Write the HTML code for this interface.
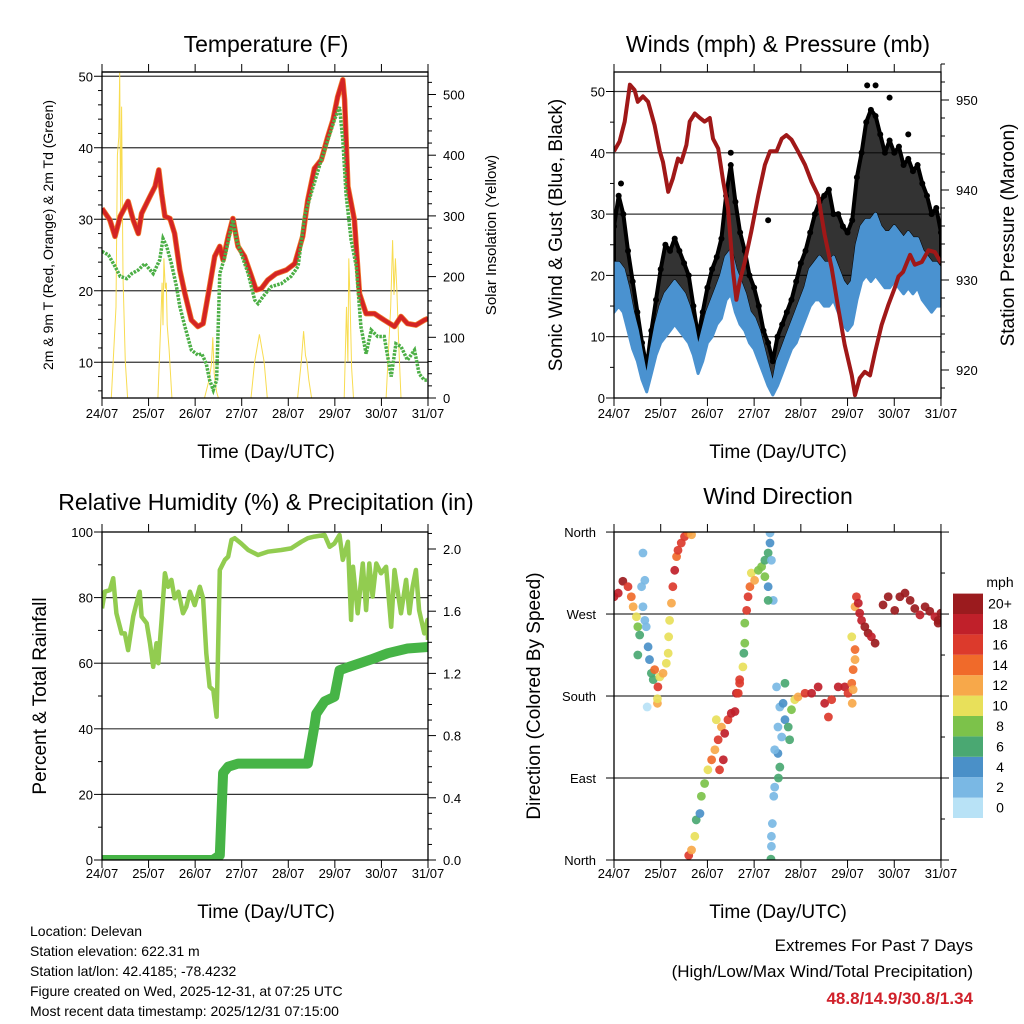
<!DOCTYPE html>
<html><head><meta charset="utf-8"><style>
body{margin:0;background:#fff}
svg{display:block;font-family:"Liberation Sans",sans-serif}
</style></head><body>
<svg id="c" width="1024" height="1024" viewBox="0 0 1024 1024" xmlns="http://www.w3.org/2000/svg">
<defs>
<clipPath id="cp1"><rect x="102" y="72" width="326" height="326"/></clipPath>
<clipPath id="cp2"><rect x="614" y="72" width="327" height="326"/></clipPath>
<clipPath id="cp3"><rect x="102" y="532" width="326" height="328"/></clipPath>
<clipPath id="cp4"><rect x="614" y="532" width="327" height="328"/></clipPath>
</defs>
<text x="266" y="52" font-size="23" text-anchor="middle">Temperature (F)</text>
<text x="778" y="52" font-size="23" text-anchor="middle">Winds (mph) &amp; Pressure (mb)</text>
<text x="266" y="510" font-size="23" text-anchor="middle">Relative Humidity (%) &amp; Precipitation (in)</text>
<text x="778" y="504" font-size="23" text-anchor="middle">Wind Direction</text>
<text x="266" y="458" font-size="19" text-anchor="middle">Time (Day/UTC)</text>
<text x="778" y="458" font-size="19" text-anchor="middle">Time (Day/UTC)</text>
<text x="266" y="918" font-size="19" text-anchor="middle">Time (Day/UTC)</text>
<text x="778" y="918" font-size="19" text-anchor="middle">Time (Day/UTC)</text>
<text transform="translate(53,235) rotate(-90)" font-size="14" text-anchor="middle">2m &amp; 9m T (Red, Orange) &amp; 2m Td (Green)</text>
<text transform="translate(496,235) rotate(-90)" font-size="15" text-anchor="middle">Solar Insolation (Yellow)</text>
<text transform="translate(562,235) rotate(-90)" font-size="19" text-anchor="middle">Sonic Wind &amp; Gust (Blue, Black)</text>
<text transform="translate(1014,235) rotate(-90)" font-size="19" text-anchor="middle">Station Pressure (Maroon)</text>
<text transform="translate(46,696) rotate(-90)" font-size="19" text-anchor="middle">Percent &amp; Total Rainfall</text>
<text transform="translate(540,696) rotate(-90)" font-size="19" text-anchor="middle">Direction (Colored By Speed)</text>
<g font-size="14">
<text x="30" y="936">Location: Delevan</text>
<text x="30" y="956">Station elevation: 622.31 m</text>
<text x="30" y="976">Station lat/lon: 42.4185; -78.4232</text>
<text x="30" y="996">Figure created on Wed, 2025-12-31, at 07:25 UTC</text>
<text x="30" y="1016">Most recent data timestamp: 2025/12/31 07:15:00</text>
</g>
<text x="973" y="951" font-size="17" text-anchor="end">Extremes For Past 7 Days</text>
<text x="973" y="977" font-size="17" text-anchor="end">(High/Low/Max Wind/Total Precipitation)</text>
<text x="973" y="1004" font-size="17" font-weight="bold" fill="#d0202a" text-anchor="end">48.8/14.9/30.8/1.34</text>
<text x="1000" y="587" font-size="14" text-anchor="middle">mph</text>
</svg>
<script>
// ---- data ----
const dayLabels=["24/07","25/07","26/07","27/07","28/07","29/07","30/07","31/07"];
const tTime=[0,0.17,0.28,0.39,0.56,0.67,0.78,0.85,1.03,1.14,1.22,1.28,1.35,1.46,1.56,1.67,1.78,1.92,2.06,2.17,2.31,2.42,2.53,2.60,2.71,2.81,2.92,3.06,3.21,3.31,3.42,3.56,3.74,3.96,4.14,4.31,4.42,4.56,4.71,4.85,4.96,5.06,5.17,5.21,5.28,5.42,5.53,5.67,5.85,6.06,6.28,6.42,6.56,6.74,6.92,7.0];
const tempT=[31.5,29.9,27.6,30.4,32.5,29.9,28.0,30.8,33.2,34.6,36.9,33.6,30.4,30.1,28.0,22.9,19.6,15.9,15.0,15.4,20.6,24.8,26.2,24.3,27.6,30.1,26.2,24.8,22.0,20.1,20.3,21.5,22.4,22.9,23.8,27.6,32.7,37.1,38.3,41.6,43.9,47.1,49.5,46.7,34.6,29.9,19.6,16.8,16.8,15.9,15.0,16.4,15.4,15.2,15.9,16.1];
const tdTime=[0,0.14,0.28,0.39,0.53,0.64,0.78,0.92,1.10,1.24,1.31,1.39,1.49,1.60,1.67,1.78,1.92,2.06,2.14,2.24,2.31,2.39,2.46,2.53,2.64,2.81,2.89,2.99,3.14,3.28,3.35,3.46,3.64,3.85,4.06,4.21,4.35,4.49,4.71,4.85,4.99,5.10,5.17,5.24,5.35,5.46,5.56,5.67,5.78,5.92,6.06,6.21,6.31,6.42,6.56,6.71,6.81,6.92,7.0];
const tempTd=[25.5,25.0,23.4,22.0,21.7,22.4,22.9,23.8,22.4,24.3,27.3,26.2,23.8,20.6,17.8,15.0,11.7,11.0,11.2,9.8,7.5,6.1,7.5,22.4,24.8,29.9,27.1,25.2,22.4,18.7,18.2,19.2,20.6,21.0,22.0,23.4,30.4,33.6,38.3,41.1,43.9,45.7,41.1,33.6,27.1,23.4,15.0,11.2,14.5,13.6,13.6,8.0,12.6,12.2,10.3,11.7,8.4,7.5,7.5];
const solTime=[0,0.2,0.3,0.33,0.36,0.38,0.4,0.42,0.45,0.5,0.55,1.2,1.26,1.29,1.31,1.33,1.36,1.38,1.4,1.44,1.5,2.2,2.3,2.35,2.38,2.41,2.46,2.5,3.2,3.28,3.38,3.48,3.55,4.2,4.28,4.33,4.37,4.4,4.44,4.5,5.2,5.25,5.28,5.3,5.33,5.36,5.4,6.1,6.2,6.24,6.27,6.3,6.33,6.37,6.42,7.0];
const solar=[0,0,150,400,430,538,300,480,200,60,0,0,120,190,120,230,180,190,120,80,0,0,30,55,100,40,10,0,0,60,105,60,0,0,60,110,70,60,30,0,0,150,60,230,150,50,0,0,150,260,170,230,180,90,0,0];
const wTime=[0,0.1,0.2,0.3,0.4,0.5,0.6,0.7,0.8,0.9,1.0,1.1,1.2,1.3,1.4,1.5,1.6,1.7,1.8,1.9,2.0,2.1,2.2,2.3,2.4,2.5,2.6,2.7,2.8,2.9,3.0,3.1,3.2,3.3,3.4,3.5,3.6,3.7,3.8,3.9,4.0,4.1,4.2,4.3,4.4,4.5,4.6,4.7,4.8,4.9,5.0,5.1,5.2,5.3,5.4,5.5,5.6,5.7,5.8,5.9,6.0,6.1,6.2,6.3,6.4,6.5,6.6,6.7,6.8,6.9,7.0];
const windLo=[14,15,14,11,8,6,3,1,4,7,9,10,11,12,11,10,9,7,4,6,9,10,12,13,16,17,14,12,11,9,8,6,4,2,0.5,2,4,6,8,9,11,13,15,16,16,15,15,16,14,12,11,12,16,19,20,19,20,19,18,18,19,18,17,18,17,18,16,15,14,15,15];
const windHi=[22,22,21,18,14,11,7,3,8,12,15,17,18,19,18,17,15,12,8,11,14,16,18,20,23,24,21,19,17,14,13,11,8,5,2,6,8,10,12,14,16,18,21,22,23,22,22,23,21,19,18,19,25,28,29,29,30,28,27,27,28,27,26,27,26,26,24,23,22,22,21];
const gust=[28,33,30,24,19,14,9,5,11,16,21,25,24,26,24,22,20,15,10,14,18,21,23,26,33,38,32,27,24,20,18,15,11,9,6,10,12,14,16,19,22,24,27,30,32,33,34,30,30,28,27,29,36,40,45,47,46,43,40,42,40,41,38,39,37,38,35,33,30,31,27];
const gustOutTime=[5.42,5.6,5.9,6.3,2.5,0.15,3.3];
const gustOut=[51,51,49,43,40,35,29];
const pTime=[0,0.12,0.23,0.34,0.44,0.51,0.62,0.73,0.87,0.98,1.05,1.16,1.26,1.37,1.44,1.55,1.62,1.73,1.84,1.94,2.05,2.12,2.23,2.34,2.44,2.55,2.62,2.69,2.8,2.94,3.09,3.23,3.34,3.48,3.59,3.69,3.8,3.94,4.09,4.23,4.37,4.51,4.66,4.8,4.94,5.09,5.16,5.26,5.37,5.48,5.59,5.73,5.87,6.01,6.09,6.19,6.34,6.44,6.59,6.73,6.87,7.0];
const pressure=[944.3,945.4,947.6,951.7,951.1,949.8,950.4,949.8,947.2,944.3,943.1,939.8,941.3,943.5,943.1,945.0,947.6,948.5,948.0,947.6,948.0,945.7,944.6,940.9,938.0,930.9,927.8,929.8,932.0,935.4,939.4,942.8,944.3,944.3,945.7,946.1,945.6,944.3,942.8,940.9,939.4,935.0,931.3,926.9,922.8,919.4,917.2,919.1,919.8,919.4,922.0,925.0,927.2,929.1,930.4,930.9,932.8,931.7,932.0,933.3,933.1,931.9];
const rhTime=[0,0.06,0.17,0.24,0.31,0.42,0.49,0.56,0.67,0.74,0.81,0.85,0.96,1.03,1.1,1.17,1.21,1.28,1.35,1.42,1.49,1.56,1.64,1.74,1.81,1.89,1.99,2.1,2.17,2.24,2.31,2.39,2.46,2.49,2.53,2.64,2.71,2.78,2.85,2.99,3.14,3.35,3.56,3.85,4.06,4.28,4.42,4.56,4.78,4.89,4.99,5.1,5.17,5.28,5.35,5.39,5.49,5.6,5.67,5.74,5.81,5.89,5.99,6.1,6.21,6.28,6.42,6.53,6.6,6.67,6.74,6.81,6.92,6.99,7.0];
const rh=[76.7,81.8,82.3,85.9,75.2,69.1,69.1,64.0,74.2,78.3,81.8,74.2,72.2,66.1,58.9,66.1,60.0,73.2,87.4,83.3,85.4,79.8,81.8,75.2,77.2,81.8,77.7,83.3,79.8,63.0,52.8,51.8,43.7,63.0,88.4,91.5,92.5,97.6,98.1,96.5,94.5,93.0,94.0,94.5,95.0,97.0,98.1,98.6,99.1,95.5,96.5,99.1,91.5,97.0,73.2,89.4,75.2,90.4,76.2,90.4,80.3,90.4,87.4,89.4,71.1,88.4,75.2,85.4,75.2,83.3,88.4,76.2,69.1,73.2,67.1];
const prTime=[0,2.38,2.53,2.6,2.71,2.92,4.42,4.56,4.6,4.78,4.99,5.1,5.28,5.78,6.14,6.56,7.0];
const precip=[0,0,0.03,0.56,0.6,0.62,0.62,0.86,0.94,1.02,1.05,1.22,1.24,1.29,1.33,1.36,1.37];
const dirTime=[0,0.09,0.19,0.3,0.37,0.41,0.48,0.51,0.55,0.62,0.66,0.69,0.66,0.73,0.76,0.8,0.84,0.87,0.94,0.98,1.05,1.12,1.16,1.17,1.19,1.23,1.26,1.3,1.34,1.37,1.44,1.51,1.59,1.66,0.62,0.51,0.71,0.93,0.93,0.59,
1.6,1.66,1.73,1.76,1.84,1.87,1.94,2.01,2.09,2.16,2.23,2.3,2.37,2.44,2.51,2.59,2.26,2.34,2.19,2.62,2.69,
2.66,2.69,2.76,2.78,2.8,2.8,2.84,2.87,2.91,2.94,3.01,3.09,3.16,3.23,3.3,3.34,3.34,3.37,3.3,3.41,3.3,3.23,
3.36,3.37,3.37,3.39,3.42,3.44,3.52,3.55,3.51,3.44,3.59,3.51,3.66,3.73,3.76,3.55,3.62,3.48,3.66,3.8,3.87,3.94,4.09,4.23,4.37,4.51,4.59,4.66,4.8,4.94,5.01,5.09,5.12,5.1,5.12,5.16,5.16,5.09,5.16,5.19,5.26,5.3,5.37,5.44,5.51,5.59,5.23,
5.76,5.87,6.01,6.12,6.23,6.34,6.44,6.55,6.66,6.76,6.87,6.94,7.0,6.94];
const dirDeg=[289,293,306,300,289,278,267,256,247,278,263,256,307,234,220,205,198,209,190,201,205,216,227,245,263,282,300,318,333,340,348,355,359,357,337,225,168,172,177,300,
5,11,26,44,51,70,84,99,110,121,132,146,139,154,161,163,99,110,154,183,194,
183,198,212,227,238,260,274,289,300,315,307,318,322,329,337,348,359,329,300,285,285,311,
1,15,26,40,70,80,90,102,117,121,135,146,154,146,132,168,172,190,194,165,176,179,183,183,190,172,157,176,190,190,183,194,187,172,209,220,231,245,278,289,271,263,256,249,245,238,282,
280,289,274,289,293,285,276,269,278,273,267,263,271,260];
const dirSpeed=[18,19,20,17,14,12,10,8,6,2,2,3,2,4,4,6,7,14,16,10,12,11,10,10,10,12,16,18,15,16,16,16,14,12,2,6,0,12,10,3,
16,12,11,6,4,8,9,10,14,12,16,13,18,16,18,18,17,18,10,18,17,
17,17,10,7,8,8,17,16,14,10,12,8,8,7,6,4,3,2,4,2,6,8,
6,2,2,2,2,2,6,6,4,2,2,2,4,6,6,3,5,2,6,8,10,12,16,18,19,18,16,17,18,18,17,15,12,12,14,13,14,10,12,16,18,19,20,20,19,20,18,
20,20,20,20,20,20,20,19,20,20,19,20,20,20];
const speedColors=["#b8e2f6","#7ab8e4","#4a90c8","#4aa872","#7cc24a","#e8e05a","#f7a84a","#f06a2a","#dc3a2c","#c0202a","#9b1b1e"];
const speedLabels=["0","2","4","6","8","10","12","14","16","18","20+"];
const dirLabels=["North","East","South","West","North"];

// ---- scales ----
const x1=d=>102+d*46.57, x2=d=>614+d*46.71;
const yT=v=>398-(v-5)*7.15, yS=s=>398-s*0.607;
const yW=v=>398-v*6.13, yP=m=>370-(m-920)*9;
const yR=v=>860-v*3.28, yPr=p=>860-p*155.5;
const yD=g=>860-g*0.911;

const svg=document.getElementById('c');
const NS='http://www.w3.org/2000/svg';
function mk(tag,attrs,parent){const e=document.createElementNS(NS,tag);for(const k in attrs)e.setAttribute(k,attrs[k]);(parent||svg).appendChild(e);return e;}
function pathFrom(xs,ys,fx,fy){return xs.map((d,i)=>(i?'L':'M')+fx(d).toFixed(1)+','+fy(ys[i]).toFixed(1)).join('');}
function grp(clip){const g=mk('g',clip?{'clip-path':'url(#'+clip+')'}:{});return g;}

function frame(L,T,R,B,name){
  const r=mk('rect',{x:L,y:T,width:R-L,height:B-T,fill:'none',stroke:'#000','stroke-width':1.3});
  
  
}
function hgrid(L,R,y,name){const l=mk('line',{x1:L,x2:R,y1:y,y2:y,stroke:'#333','stroke-width':1.2});
  
  }
function xticks(L,fx,T,B,yl,name){
  for(let i=0;i<dayLabels.length;i++){const x=fx(i);
    mk('line',{x1:x,x2:x,y1:T,y2:T-8,stroke:'#000','stroke-width':1});
    mk('line',{x1:x,x2:x,y1:B,y2:B+8,stroke:'#000','stroke-width':1});
    const t=mk('text',{x:x,y:yl,'font-size':13,'text-anchor':'middle'});t.textContent=dayLabels[i];
    
    }
}
function ytick(x,y,len,lab,anchor,lx,name){
  mk('line',{x1:x,x2:x+len,y1:y,y2:y,stroke:'#000','stroke-width':1});
  if(lab!==null){const t=mk('text',{x:lx,y:y+5,'font-size':13,'text-anchor':anchor});t.textContent=lab;
    
    }
}

// ===== Panel 1 =====
[10,20,30,40,50].forEach(v=>hgrid(102,428,yT(v),'temp-gridline'));
hgrid(102,428,72,'temp-top-line');
let g=grp('cp1');
let s=mk('path',{d:pathFrom(solTime,solar,x1,yS),fill:'none',stroke:'#f8dc50','stroke-width':1},g);


s=mk('path',{d:pathFrom(tTime,tempT,x1,yT),fill:'none',stroke:'#f07a2a','stroke-width':5.5,'stroke-linejoin':'round'},g);


s=mk('path',{d:pathFrom(tTime,tempT,x1,yT),fill:'none',stroke:'#d42424','stroke-width':4,'stroke-linejoin':'round'},g);


s=mk('path',{d:pathFrom(tdTime,tempTd,x1,yT),fill:'none',stroke:'#4caf46','stroke-width':3.5,'stroke-dasharray':'2.5 1.2'},g);


frame(102,72,428,398,'temp-plot-frame');
xticks(102,x1,72,398,418,'temp-x');
for(let v=6;v<=50;v+=2){const major=v%10===0;ytick(102,yT(v),major?-8:-4,major?String(v):null,'end',93,'temp-y-tick-'+v);}
for(let v=0;v<=520;v+=20){const major=v%100===0;ytick(428,yS(v),major?8:4,major?String(v):null,'start',443,'solar-y-tick-'+v);}

// ===== Panel 2 =====
[10,20,30,40,50].forEach(v=>hgrid(614,941,yW(v),'wind-gridline'));
g=grp('cp2');
let band=windHi.map((v,i)=>(i?'L':'M')+x2(wTime[i]).toFixed(1)+','+yW(gust[i]).toFixed(1)).join('')+
 windLo.map((v,i)=>'L'+x2(wTime[wTime.length-1-i]).toFixed(1)+','+yW(windHi[wTime.length-1-i]).toFixed(1)).join('')+'Z';
s=mk('path',{d:band,fill:'#000','fill-opacity':0.8,stroke:'#000','stroke-width':4,'stroke-linejoin':'round'},g);


for(let i=0;i<gust.length;i++){const c=mk('circle',{cx:x2(wTime[i]),cy:yW(gust[i]),r:3,fill:'#000'},g);
 
 }
for(let i=0;i<gustOut.length;i++){const c=mk('circle',{cx:x2(gustOutTime[i]),cy:yW(gustOut[i]),r:3,fill:'#000'},g);
 
 }
let wb=windHi.map((v,i)=>(i?'L':'M')+x2(wTime[i]).toFixed(1)+','+yW(v).toFixed(1)).join('')+
 windLo.map((v,i)=>{const j=wTime.length-1-i;return 'L'+x2(wTime[j]).toFixed(1)+','+yW(windLo[j]).toFixed(1);}).join('')+'Z';
s=mk('path',{d:wb,fill:'#4a92d0',stroke:'#4a92d0','stroke-width':3,'stroke-linejoin':'round'},g);


s=mk('path',{d:pathFrom(pTime,pressure,x2,yP),fill:'none',stroke:'#a01818','stroke-width':4,'stroke-linejoin':'round'},g);


frame(614,72,941,398,'wind-plot-frame');
xticks(614,x2,72,398,418,'wind-x');
for(let v=0;v<=52;v+=5){const major=v%10===0;ytick(614,yW(v),major?-8:-4,major?String(v):null,'end',605,'wind-y-tick-'+v);}
for(let m=918;m<=954;m+=2){const major=m%10===0;ytick(941,yP(m),major?8:4,major?String(m):null,'start',956,'pressure-y-tick-'+m);}

// ===== Panel 3 =====
[20,40,60,80].forEach(v=>hgrid(102,428,yR(v),'rh-gridline'));
g=grp('cp3');
s=mk('path',{d:pathFrom(rhTime,rh,x1,yR),fill:'none',stroke:'#92cc50','stroke-width':4.5,'stroke-linejoin':'round'},g);


s=mk('path',{d:pathFrom(prTime,precip,x1,yPr),fill:'none',stroke:'#46b446','stroke-width':10,'stroke-linejoin':'round','stroke-linecap':'round'},g);


frame(102,532,428,860,'rh-plot-frame');
xticks(102,x1,532,860,878,'rh-x');
for(let v=0;v<=100;v+=10){const major=v%20===0;ytick(102,yR(v),major?-8:-4,major?String(v):null,'end',93,'rh-y-tick-'+v);}
for(let k=0;k<=21;k++){const p=k*0.1;const major=k%4===0;ytick(428,yPr(p),major?8:4,major?p.toFixed(1):null,'start',443,'precip-y-tick-'+k);}

// ===== Panel 4 =====
[90,180,270].forEach(v=>hgrid(614,941,yD(v),'dir-gridline'));
g=grp('cp4');
for(let i=0;i<dirDeg.length;i++){
  const bin=Math.min(10,Math.floor(dirSpeed[i]/2));
  const c=mk('circle',{cx:x2(dirTime[i]),cy:yD(dirDeg[i]),r:4.4,fill:speedColors[bin],'fill-opacity':0.92},g);
  
  
}
frame(614,532,941,860,'dir-plot-frame');
xticks(614,x2,532,860,878,'dir-x');
for(let k=0;k<dirLabels.length;k++){ytick(614,yD(k*90),-8,dirLabels[k],'end',596,'dir-y-tick-'+k);}
for(let k=0;k<=8;k++){ytick(941,yD(k*45),k%2===0?8:4,null,'start',0,'');}

// ===== Colorbar =====
for(let i=0;i<speedColors.length;i++){
  const y=818-(i+1)*20.4;
  const r=mk('rect',{x:953,y:y,width:30,height:20.4,fill:speedColors[i]});
  
  
  const t=mk('text',{x:1000,y:y+15,'font-size':14,'text-anchor':'middle'});t.textContent=speedLabels[i];
  
  
}
</script>
</body></html>
